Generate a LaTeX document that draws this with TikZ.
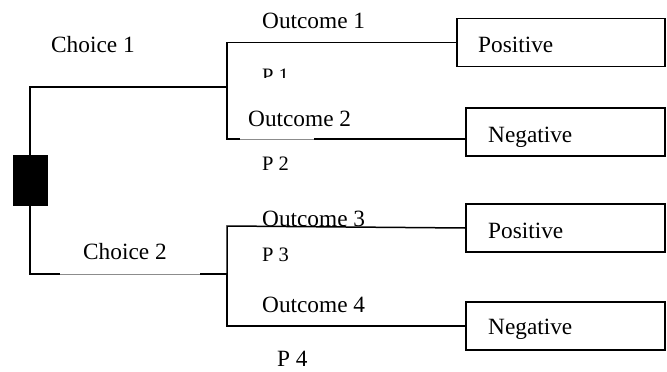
\documentclass[tikz,border=0pt]{standalone}
\usepackage{fontspec}
\setmainfont{Liberation Serif}
\begin{document}
\begin{tikzpicture}[x=1pt,y=-1pt,
  wire/.style={line width=1.5pt,black},
  faint/.style={line width=0.7pt,black!45},
  outbox/.style={draw,line width=1.5pt,minimum width=#1,minimum height=48pt,inner sep=0pt},
  outbox/.default=199pt,
  lbl/.style={anchor=base west,inner sep=0pt,font=\fontsize{23.3}{28}\selectfont},
  plbl/.style={anchor=base west,inner sep=0pt,font=\fontsize{20.5}{24}\selectfont},
  decision/.style={fill=black,draw=black,minimum width=34pt,minimum height=50pt,inner sep=0pt}]
\useasboundingbox (0,0) rectangle (667,372);

% decision node
\node[decision] (root) at (30,180) {};

% outcome boxes
\node[outbox=208pt] (pos1) at (561,42.5) {};
\node[outbox] (neg1) at (565.5,132) {};
\node[outbox] (pos2) at (565.5,228) {};
\node[outbox] (neg2) at (565.5,326) {};

% junctions and break points of the lines
\coordinate (j1) at (227,87);
\coordinate (j2) at (227,274);
\coordinate (k3) at (227,226);
\coordinate (g1a) at (240,139);
\coordinate (g1b) at (314,139);
\coordinate (g2a) at (60,274);
\coordinate (g2b) at (200,274);

% choice 1 branch
\draw[wire] (root.north) |- (j1);
\draw[wire] (j1) |- (pos1.west);
\draw[wire] (j1) |- (g1a);
\draw[faint] (g1a) -- (g1b);
\draw[wire] (g1b) -- ([yshift=-7pt]neg1.west);

% choice 2 branch
\draw[wire] (root.south) |- (g2a);
\draw[faint] (g2a) -- (g2b);
\draw[wire] (g2b) -- (j2);
\draw[wire] (j2) -- (k3) -- (pos2.west);
\draw[wire] (j2) |- (neg2.west);

% labels
\node[lbl] (c1) at (51,52) {Choice 1};
\node[lbl] (c2) at (83,259) {Choice 2};
\node[lbl] (o1) at (262,28) {Outcome 1};
\node[lbl] (o2) at (248,126) {Outcome 2};
\node[lbl] (o3) at (262,226) {Outcome 3};
\node[lbl] (o4) at (262,312) {Outcome 4};

\begin{scope}
  \clip (250,55) rectangle (300,77);
  \node[plbl] (p1) at (262,82) {P 1};
\end{scope}
\node[plbl] (p2) at (262,170.5) {P 2};
\node[plbl] (p3) at (262,261) {P 3};
\node[lbl] (p4) at (277,366.5) {P 4};

\node[lbl] (t1) at (478,52) {Positive};
\node[lbl] (t2) at (488,142.5) {Negative};
\node[lbl] (t3) at (488,238) {Positive};
\node[lbl] (t4) at (488,334) {Negative};
\end{tikzpicture}
\end{document}
